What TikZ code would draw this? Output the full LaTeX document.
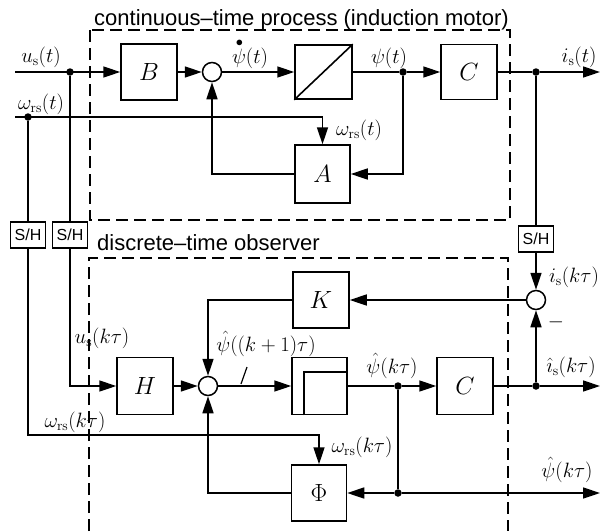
\documentclass[tikz,border=0pt]{standalone}
\usepackage{fontspec}
\setsansfont{Liberation Sans}
\usetikzlibrary{arrows.meta}
\tikzset{
 blk/.style={draw, line width=1.5pt, minimum width=56pt, minimum height=56pt, inner sep=0pt, font=\fontsize{25}{28}\selectfont},
 sh/.style={draw, line width=1.2pt, minimum width=35pt, minimum height=26pt, inner sep=0pt, font=\sffamily\fontsize{16}{18}\selectfont},
 sumc/.style={draw, circle, fill=white, line width=1.5pt, minimum size=19pt, inner sep=0pt},
 dotn/.style={circle, fill, minimum size=7.5pt, inner sep=0pt},
 wire/.style={line width=1.6pt},
 arr/.style={wire, -{Triangle[length=17pt,width=11pt]}},
 lbl/.style={font=\fontsize{20}{24}\selectfont, inner sep=0pt},
 ttl/.style={font=\sffamily\fontsize{22}{24}\selectfont, inner sep=0pt},
 frame/.style={dash pattern=on 12pt off 6pt, line width=1.2pt},
}
\begin{document}
\begin{tikzpicture}[x=1pt,y=-1pt]
\useasboundingbox (0,0) rectangle (604,531);
% ---------- continuous-time process ----------
\node[ttl, anchor=base] (t1) at (301.5,25) {continuous–time process (induction motor)};
\draw[frame] (90,30) rectangle (510,220);
\node[blk] (B) at (149,72) {$B$};
\node[sumc] (s1) at (212,72) {};
\node[blk, minimum width=57pt, minimum height=54pt] (I1) at (323.5,72) {};
\draw[wire] (I1.south west) -- (I1.north east);
\node[blk, minimum height=55pt] (C1) at (469,72) {$C$};
\node[blk, minimum width=55pt, minimum height=58pt] (A) at (322.5,174) {$A$};
\coordinate (usin) at (15,72);
\coordinate (win) at (15,117);
\coordinate (isout) at (600,72);
\node[dotn] (du) at (70,72) {};
\node[dotn] (dw) at (28,117) {};
\node[dotn] (dp) at (403,72) {};
\node[dotn] (di) at (536,72) {};
\draw[arr] (usin) -- (B.west);
\draw[arr] (B) -- (s1);
\draw[arr] (s1) -- (I1);
\draw[wire] (I1) -- (dp);
\draw[arr] (dp) -- (C1);
\draw[wire] (C1) -- (di);
\draw[arr] (di) -- (isout);
\draw[arr] (win) -| (A.north);
\draw[arr] (dp) |- (A.east);
\draw[arr] (A.west) -| (s1.south);
\node[lbl] at (41,57) {$u_{\mathrm s}(t)$};
\node[lbl] at (41,104) {$\omega_{\mathrm{rs}}(t)$};
\node[lbl] at (250,54) {${\stackrel{\bullet}{\psi}}(t)$};
\node[lbl] at (389,58) {$\psi(t)$};
\node[lbl] at (579,57) {$i_{\mathrm s}(t)$};
\node[lbl] at (359,130) {$\omega_{\mathrm{rs}}(t)$};
% ---------- sample and hold ----------
\node[sh] (sh1) at (28,235) {S/H};
\node[sh] (sh2) at (70,235) {S/H};
\node[sh] (sh3) at (536,239) {S/H};
\draw[wire] (dw) -- (sh1.north);
\draw[wire] (du) -- (sh2.north);
\draw[wire] (di) -- (sh3.north);
% ---------- discrete-time observer ----------
\node[ttl, anchor=base west] (t2) at (97,250) {discrete–time observer};
\draw[frame] (89,531) -- (89,258) -- (508,258) -- (508,531);
\node[blk, minimum height=57pt] (H) at (145,386) {$H$};
\node[sumc] (s2) at (208,386) {};
\node[blk] (K) at (321,300) {$K$};
\node[blk, minimum width=55pt, minimum height=57pt] (D) at (319.5,386) {};
\draw[wire] ([xshift=13pt]D.south west) |- ([yshift=-15.5pt]D.north east);
\node[blk, minimum height=57pt] (C2) at (465,386) {$C$};
\node[blk, minimum width=55pt] (Phi) at (319,493) {$\Phi$};
\node[sumc] (s3) at (536,300) {};
\node[dotn] (dpk) at (398,386) {};
\node[dotn] (dik) at (536,386) {};
\node[dotn] (dpk2) at (398,493) {};
\coordinate (ikout) at (600,386);
\coordinate (pkout) at (600,493);
\draw[arr] (sh2.south) |- (H.west);
\draw[arr] (H) -- (s2);
\draw[arr] (K.west) -| (s2.north);
\draw[arr] (s2) -- (D);
\draw[line width=1.2pt] (241,384) -- (247,367);
\draw[wire] (D) -- (dpk);
\draw[arr] (dpk) -- (C2);
\draw[wire] (C2) -- (dik);
\draw[arr] (dik) -- (ikout);
\draw[arr] (dik) -- (s3.south);
\draw[arr] (sh3.south) -- (s3.north);
\draw[arr] (s3.west) -- (K.east);
\draw[arr] (sh1.south) |- ([yshift=29pt]Phi.north) -- (Phi.north);
\draw[arr] (Phi.west) -| (s2.south);
\draw[wire] (dpk) -- (dpk2);
\draw[arr] (dpk2) -- (Phi.east);
\draw[arr] (dpk2) -- (pkout);
\node[lbl] at (102,338) {$u_{\mathrm s}(k\tau)$};
\node[lbl] at (266,344) {$\hat\psi((k+1)\tau)$};
\node[lbl] at (392,366) {$\hat\psi(k\tau)$};
\node[lbl] at (574,277) {$i_{\mathrm s}(k\tau)$};
\node[lbl] at (556,322) {$-$};
\node[lbl] at (571,367) {$\hat\imath_{\mathrm s}(k\tau)$};
\node[lbl] at (75,422) {$\omega_{\mathrm{rs}}(k\tau)$};
\node[lbl] at (362,447) {$\omega_{\mathrm{rs}}(k\tau)$};
\node[lbl] at (567,470) {$\hat\psi(k\tau)$};
\end{tikzpicture}
\end{document}
